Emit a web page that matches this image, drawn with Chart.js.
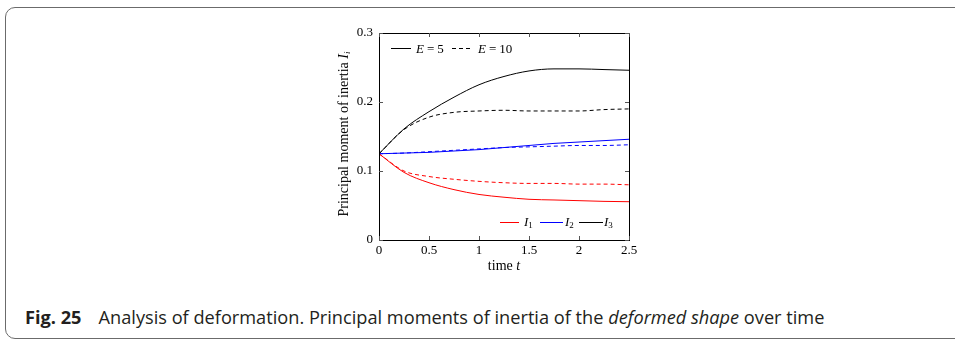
<!DOCTYPE html>
<html>
<head>
<meta charset="utf-8">
<script src="https://cdn.jsdelivr.net/npm/chart.js@4/dist/chart.umd.min.js"></script>
<style>
  body { margin: 0; width: 955px; height: 341px; position: relative; background: #fff; overflow: hidden; }
  .frame { position: absolute; left: 5px; top: 7px; width: 975px; height: 330px; border: 1px solid #6b6b6b; border-radius: 10px; }
  #wrap { position: absolute; left: 0; top: 0; width: 955px; height: 290px; }
  .tex { position: absolute; font-family: "Liberation Serif", serif; font-size: 13px; color: #000; white-space: nowrap; line-height: 1; }
  .tex i { font-style: italic; }
  .tex sub { font-size: 9px; vertical-align: -2px; }
  .eq { margin: 0 3px; }
  svg.sample { position: absolute; overflow: visible; }
  .ytitle { width: 200px; height: 14px; text-align: center; font-size: 14px; left: 244px; top: 127px; transform: rotate(-90deg); }
  .caption { position: absolute; left: 25px; top: 305px; font-family: "Open Sans", sans-serif; font-size: 18.2px; line-height: normal; color: #231f20; white-space: nowrap; }
</style>
</head>
<body>
<div class="frame"></div>
<div id="wrap"><canvas id="chart" width="955" height="290"></canvas></div>

<div class="tex ytitle">Principal moment of inertia <i>I<sub>i</sub></i></div>
<div class="tex" style="font-size:14px; left:484px; top:259px; width:40px; text-align:center;">time <i>t</i></div>

<!-- legend: E -->
<svg class="sample" style="left:391px; top:48px" width="20" height="1"><line x1="0" y1="0.5" x2="20" y2="0.5" stroke="#000" stroke-width="1"/></svg>
<div class="tex" style="left:416px; top:42px;"><i>E</i><span class="eq">=</span>5</div>
<svg class="sample" style="left:452px; top:48px" width="20" height="1"><line x1="0" y1="0.5" x2="20" y2="0.5" stroke="#000" stroke-width="1" stroke-dasharray="4 3"/></svg>
<div class="tex" style="left:478px; top:42px;"><i>E</i><span class="eq">=</span>10</div>

<!-- legend: I -->
<svg class="sample" style="left:500px; top:222px" width="19" height="1"><line x1="0" y1="0.5" x2="19" y2="0.5" stroke="#f00" stroke-width="1"/></svg>
<div class="tex" style="left:524px; top:215px;"><i>I</i><sub>1</sub></div>
<svg class="sample" style="left:540px; top:222px" width="23" height="1"><line x1="0" y1="0.5" x2="23" y2="0.5" stroke="#00f" stroke-width="1"/></svg>
<div class="tex" style="left:565px; top:215px;"><i>I</i><sub>2</sub></div>
<svg class="sample" style="left:579px; top:222px" width="24" height="1"><line x1="0" y1="0.5" x2="24" y2="0.5" stroke="#000" stroke-width="1"/></svg>
<div class="tex" style="left:604px; top:215px;"><i>I</i><sub>3</sub></div>

<div class="caption"><b>Fig. 25</b><span style="display:inline-block; width:17px"></span>Analysis of deformation. Principal moments of inertia of the <i>deformed shape</i> over time</div>

<script>
// time axis samples
const times = [0, 0.25, 0.5, 0.75, 1, 1.25, 1.5, 1.75, 2, 2.25, 2.5];

// E = 5 (solid)
const i1E5 = [0.125, 0.098, 0.083, 0.073, 0.066, 0.062, 0.059, 0.058, 0.057, 0.056, 0.0555];
const i2E5 = [0.125, 0.126, 0.127, 0.129, 0.131, 0.134, 0.137, 0.140, 0.142, 0.144, 0.146];
const i3E5 = [0.125, 0.161, 0.186, 0.207, 0.225, 0.237, 0.245, 0.248, 0.248, 0.247, 0.246];

// E = 10 (dashed)
const i1E10 = [0.125, 0.100, 0.092, 0.088, 0.085, 0.083, 0.082, 0.082, 0.081, 0.081, 0.080];
const i2E10 = [0.125, 0.126, 0.128, 0.130, 0.132, 0.134, 0.135, 0.136, 0.137, 0.137, 0.138];
const i3E10 = [0.125, 0.160, 0.178, 0.185, 0.187, 0.188, 0.187, 0.187, 0.187, 0.189, 0.190];

const xTicks = [0, 0.5, 1, 1.5, 2, 2.5];
const yTicks = [0, 0.1, 0.2, 0.3];

const pts = arr => times.map((t, i) => ({ x: t, y: arr[i] }));
const line = (arr, color, dashed) => ({
    data: pts(arr),
    borderColor: color,
    borderWidth: 1,
    borderDash: dashed ? [4, 3] : [],
    pointRadius: 0,
    fill: false,
    cubicInterpolationMode: 'monotone'
});

// frame + inward ticks like pgfplots
const frameTicks = {
    id: 'frameTicks',
    afterDraw(chart) {
        const { ctx, chartArea: a, scales } = chart;
        ctx.save();
        ctx.strokeStyle = '#000';
        ctx.lineWidth = 1;
        ctx.strokeRect(a.left + 0.5, a.top + 0.5, a.right - a.left, a.bottom - a.top);
        ctx.strokeStyle = '#555';
        ctx.beginPath();
        xTicks.forEach(v => {
            const px = Math.round(scales.x.getPixelForValue(v)) + 0.5;
            ctx.moveTo(px, a.bottom); ctx.lineTo(px, a.bottom - 4);
            ctx.moveTo(px, a.top); ctx.lineTo(px, a.top + 4);
        });
        yTicks.forEach(v => {
            const py = Math.round(scales.y.getPixelForValue(v)) + 0.5;
            ctx.moveTo(a.left, py); ctx.lineTo(a.left + 4, py);
            ctx.moveTo(a.right, py); ctx.lineTo(a.right - 4, py);
        });
        ctx.stroke();
        ctx.restore();
    }
};

const tickFont = { family: '"Liberation Serif", serif', size: 13 };

new Chart(document.getElementById('chart'), {
    type: 'line',
    data: {
        datasets: [
            line(i1E5, '#ff0000', false),
            line(i2E5, '#0000ff', false),
            line(i3E5, '#000000', false),
            line(i1E10, '#ff0000', true),
            line(i2E10, '#0000ff', true),
            line(i3E10, '#000000', true)
        ]
    },
    options: {
        responsive: false,
        animation: false,
        devicePixelRatio: 1,
        layout: { padding: { left: 329, right: 326, top: 33, bottom: 10 } },
        plugins: { legend: { display: false }, tooltip: { enabled: false } },
        scales: {
            x: {
                type: 'linear', min: 0, max: 2.5,
                afterBuildTicks: s => { s.ticks = xTicks.map(v => ({ value: v })); },
                afterFit: s => { s.height = 40; },
                grid: { display: false, drawTicks: false },
                border: { display: false },
                ticks: { color: '#000', font: tickFont, padding: 3, maxRotation: 0, callback: v => String(v) }
            },
            y: {
                type: 'linear', min: 0, max: 0.3,
                afterBuildTicks: s => { s.ticks = yTicks.map(v => ({ value: v })); },
                afterFit: s => { s.width = 50; },
                grid: { display: false, drawTicks: false },
                border: { display: false },
                ticks: { color: '#000', font: tickFont, padding: 6, callback: v => String(Math.round(v * 10) / 10) }
            }
        }
    },
    plugins: [frameTicks]
});
</script>
</body>
</html>
